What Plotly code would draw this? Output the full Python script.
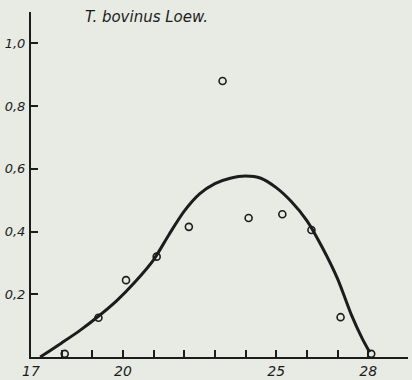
import plotly.graph_objects as go

# Observed points (temperature, value)
temp = [18.1, 19.2, 20.1, 21.1, 22.15, 23.25, 24.1, 25.2, 26.15, 27.1, 28.1]
value = [0.01, 0.125, 0.245, 0.32, 0.415, 0.88, 0.443, 0.455, 0.405, 0.127, 0.01]

# Fitted (hand-drawn) curve
curve_x = [17.3, 18.0, 18.6, 19.2, 19.8, 20.4, 21.0, 21.5, 22.0, 22.5, 23.0, 23.5, 24.0, 24.5,
           25.0, 25.5, 26.0, 26.5, 27.0, 27.45, 27.8, 28.05]
curve_y = [0.0, 0.045, 0.085, 0.13, 0.18, 0.24, 0.31, 0.39, 0.465, 0.52, 0.553, 0.57, 0.577, 0.57,
           0.54, 0.495, 0.435, 0.35, 0.25, 0.135, 0.06, 0.015]

x_tickvals = [17, 18, 19, 20, 21, 22, 23, 24, 25, 26, 27, 28]
x_ticktext = ["17", "", "", "20", "", "", "", "", "25", "", "", "28"]
y_tickvals = [0.2, 0.4, 0.6, 0.8, 1.0]
y_ticktext = ["0,2", "0,4", "0,6", "0,8", "1,0"]

ink = "#1c1c1c"
paper = "#e7ebe4"
font_family = "DejaVu Sans"

fig = go.Figure()
fig.add_trace(go.Scatter(
    x=curve_x, y=curve_y, mode="lines",
    line=dict(color=ink, width=3, shape="spline", smoothing=0.8),
    hoverinfo="skip", showlegend=False,
))
fig.add_trace(go.Scatter(
    x=temp, y=value, mode="markers",
    marker=dict(symbol="circle-open", size=7, color=ink, line=dict(width=1.6, color=ink)),
    showlegend=False,
))

fig.update_layout(
    width=412, height=380,
    margin=dict(l=31, r=4, t=12, b=23),
    paper_bgcolor=paper, plot_bgcolor=paper,
    font=dict(family=font_family, color=ink, size=13),
    annotations=[dict(
        text="T. bovinus Loew.", xref="paper", yref="paper",
        x=0.138, y=0.985, xanchor="left", yanchor="middle",
        showarrow=False, font=dict(size=15, style="italic", color=ink, family=font_family),
    )],
)
fig.update_xaxes(
    range=[17, 29.3], tickvals=x_tickvals, ticktext=x_ticktext, automargin=False,
    showline=True, linewidth=2, linecolor=ink, showgrid=False, zeroline=False,
    ticks="inside", ticklen=7, tickwidth=1.5, tickcolor=ink,
    tickfont=dict(size=14, style="italic", color=ink), ticklabelstandoff=0,
)
fig.update_yaxes(
    range=[0, 1.1], tickvals=y_tickvals, ticktext=y_ticktext, automargin=False,
    showline=True, linewidth=2, linecolor=ink, showgrid=False, zeroline=False,
    ticks="inside", ticklen=7, tickwidth=1.5, tickcolor=ink,
    tickfont=dict(size=13, style="italic", color=ink), ticklabelstandoff=1,
)

fig.write_html(
    "out.html",
    config={"displayModeBar": False},
    post_script="document.body.style.margin='0px';document.body.style.background='#e7ebe4';",
)
